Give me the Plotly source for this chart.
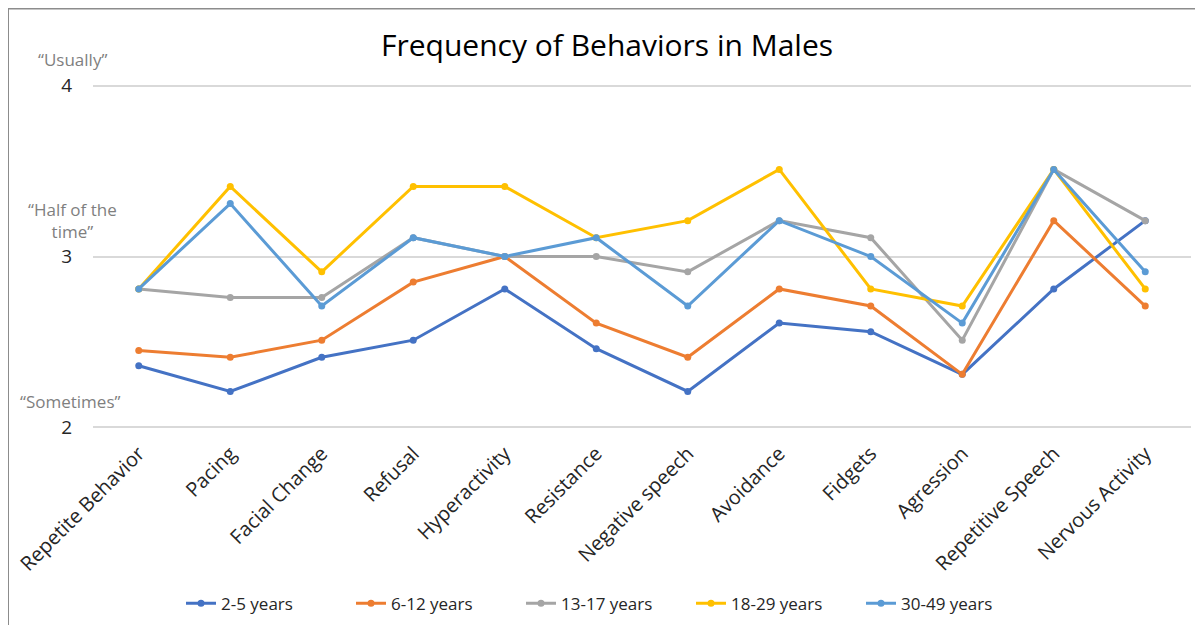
import plotly.graph_objects as go

categories = ["Repetite Behavior", "Pacing", "Facial Change", "Refusal", "Hyperactivity",
              "Resistance", "Negative speech", "Avoidance", "Fidgets", "Agression",
              "Repetitive Speech", "Nervous Activity"]

series_names = ["2-5 years", "6-12 years", "13-17 years", "18-29 years", "30-49 years"]

age_2_5 = [2.36, 2.21, 2.41, 2.51, 2.81, 2.46, 2.21, 2.61, 2.56, 2.31, 2.81, 3.21]
age_6_12 = [2.45, 2.41, 2.51, 2.85, 3.00, 2.61, 2.41, 2.81, 2.71, 2.31, 3.21, 2.71]
age_13_17 = [2.81, 2.76, 2.76, 3.11, 3.00, 3.00, 2.91, 3.21, 3.11, 2.51, 3.51, 3.21]
age_18_29 = [2.81, 3.41, 2.91, 3.41, 3.41, 3.11, 3.21, 3.51, 2.81, 2.71, 3.51, 2.81]
age_30_49 = [2.81, 3.31, 2.71, 3.11, 3.00, 3.11, 2.71, 3.21, 3.00, 2.61, 3.51, 2.91]

y_ticks = [2, 3, 4]
y_level_labels = ["“Sometimes”", "“Half of the<br>time”", "“Usually”"]

colors = ["#4472C4", "#ED7D31", "#A5A5A5", "#FFC000", "#5B9BD5"]
all_series = [age_2_5, age_6_12, age_13_17, age_18_29, age_30_49]

FONT = "Open Sans"

fig = go.Figure()
for name, vals, col in zip(series_names, all_series, colors):
    fig.add_trace(go.Scatter(
        x=categories, y=vals, name=name, mode="lines+markers",
        line=dict(color=col, width=3),
        marker=dict(color=col, size=7, symbol="circle"),
    ))

# page body has an 8px margin; figure is sized to fit inside the window
OFF = 8
W, H = 1203 - 2 * OFF, 633 - 2 * OFF
ext = 0.01
L = 93 - OFF
R = W - (1191 - OFF)
T = (86 - OFF) - ext * 170.5
B = H - ((427 - OFF) + ext * 170.5)
pw = W - L - R
ph = H - T - B

def px_x(x):
    return (x - OFF - L) / pw

def px_y(y):
    return (H - B - (y - OFF)) / ph

fig.update_layout(
    width=W, height=H,
    margin=dict(l=L, r=R, t=T, b=B),
    paper_bgcolor="white", plot_bgcolor="white",
    font=dict(family=FONT, color="#404040"),
    title=dict(text="Frequency of Behaviors in Males", x=px_x(607), xanchor="center",
               xref="paper", y=1 - (45 - OFF) / H, yanchor="middle",
               font=dict(family=FONT, size=30, color="#000000")),
    xaxis=dict(
        type="category", range=[-0.5, len(categories) - 0.5],
        showgrid=False, zeroline=False, showline=False, ticks="",
        tickangle=-45, ticklabelstandoff=8,
        tickfont=dict(family=FONT, size=20, color="#262626"),
    ),
    yaxis=dict(
        range=[2 - ext, 4 + ext], tickvals=y_ticks, ticktext=[str(v) for v in y_ticks],
        showgrid=True, gridcolor="#D9D9D9", gridwidth=1.5, zeroline=False,
        showline=False, ticks="", ticklabelstandoff=20,
        tickfont=dict(family=FONT, size=19, color="#262626"),
    ),
    legend=dict(
        orientation="h", x=px_x(606), xanchor="center", y=px_y(603), yanchor="middle",
        font=dict(family=FONT, size=17, color="#262626"),
        entrywidth=125, entrywidthmode="pixels", itemwidth=30,
    ),
    shapes=[dict(type="rect", xref="paper", yref="paper",
                 x0=px_x(8), x1=px_x(1300), y0=px_y(700), y1=px_y(9),
                 line=dict(color="#8C8C8C", width=2), fillcolor="rgba(0,0,0,0)",
                 layer="below")],
)

label_pos = [(70, 401), (72, 221), (72, 60)]
for txt, (ax, ay) in zip(y_level_labels, label_pos):
    fig.add_annotation(text=txt, xref="paper", yref="paper", x=px_x(ax), y=px_y(ay),
                       xanchor="center", yanchor="middle", showarrow=False,
                       font=dict(family=FONT, size=17, color="#7F7F7F"))

fig.write_html("out.html")
